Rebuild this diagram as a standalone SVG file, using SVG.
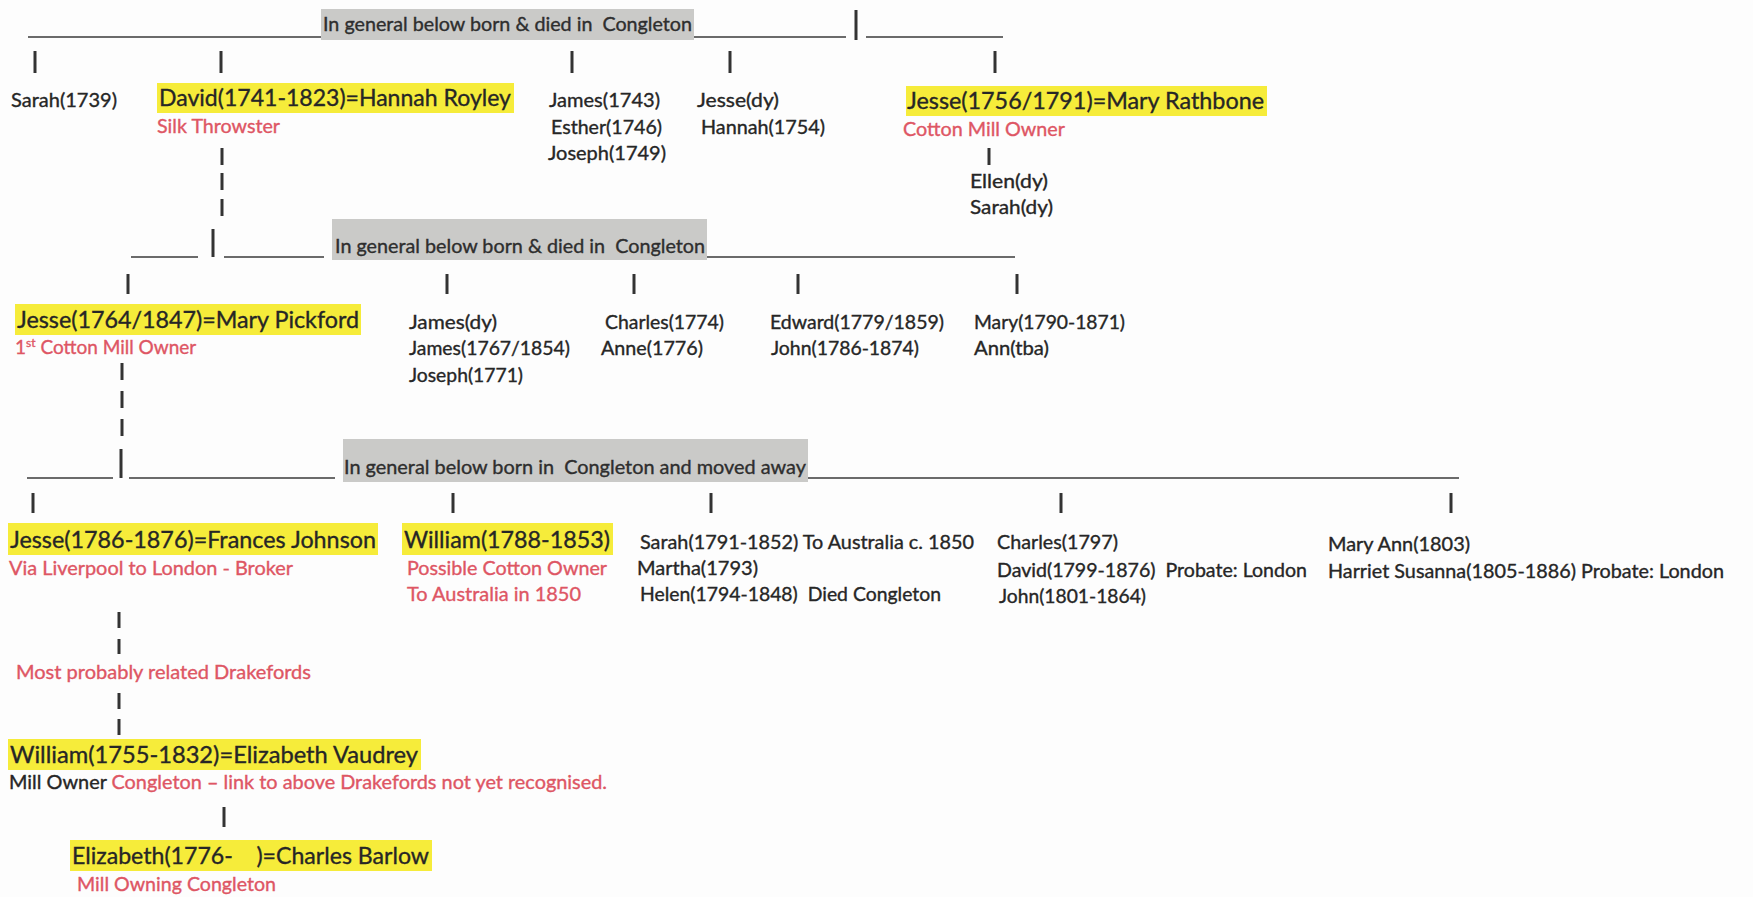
<svg xmlns="http://www.w3.org/2000/svg" width="1753" height="897" viewBox="0 0 1753 897">
<style>
text{font-family:Lato,"Open Sans","Liberation Sans",sans-serif;white-space:pre;stroke-width:0.35px}
.t{font-size:19px;fill:#262626;stroke:#262626}
.r{font-size:19px;fill:#de5664;stroke:#de5664}
.h{font-size:24px;fill:#262626;stroke:#262626}
.g{font-size:19px;fill:#2e2e2e;stroke:#2e2e2e}
.hl{fill:#f6ec3a}
.gb{fill:#cacac8}
.ln{stroke:#3a3a3a;stroke-width:1.6;fill:none}
.tk{stroke:#333;stroke-width:3;fill:none}
</style>
<rect width="1753" height="897" fill="#fdfdfd"/>

<g id="connectors">
  <!-- row 1 -->
  <line class="ln" x1="28" y1="37" x2="846" y2="37"/>
  <line class="tk" x1="856" y1="10" x2="856" y2="40"/>
  <line class="ln" x1="866" y1="37" x2="1003" y2="37"/>
  <line class="tk" x1="35" y1="51" x2="35" y2="73"/>
  <line class="tk" x1="221" y1="51" x2="221" y2="73"/>
  <line class="tk" x1="572" y1="51" x2="572" y2="73"/>
  <line class="tk" x1="730" y1="51" x2="730" y2="73"/>
  <line class="tk" x1="995" y1="51" x2="995" y2="73"/>
  <line class="tk" x1="222" y1="148" x2="222" y2="165"/>
  <line class="tk" x1="222" y1="173" x2="222" y2="190"/>
  <line class="tk" x1="222" y1="199" x2="222" y2="216"/>
  <line class="tk" x1="989" y1="148" x2="989" y2="165"/>
  <!-- row 2 -->
  <line class="ln" x1="131" y1="257" x2="198" y2="257"/>
  <line class="tk" x1="213" y1="229" x2="213" y2="257"/>
  <line class="ln" x1="224" y1="257" x2="324" y2="257"/>
  <line class="ln" x1="334" y1="257" x2="1015" y2="257"/>
  <line class="tk" x1="128" y1="274" x2="128" y2="294"/>
  <line class="tk" x1="447" y1="274" x2="447" y2="294"/>
  <line class="tk" x1="634" y1="274" x2="634" y2="294"/>
  <line class="tk" x1="798" y1="274" x2="798" y2="294"/>
  <line class="tk" x1="1017" y1="274" x2="1017" y2="294"/>
  <line class="tk" x1="122" y1="363" x2="122" y2="380"/>
  <line class="tk" x1="122" y1="391" x2="122" y2="408"/>
  <line class="tk" x1="122" y1="419" x2="122" y2="436"/>
  <!-- row 3 -->
  <line class="ln" x1="27" y1="478" x2="113" y2="478"/>
  <line class="tk" x1="121" y1="449" x2="121" y2="478"/>
  <line class="ln" x1="129" y1="478" x2="335" y2="478"/>
  <line class="ln" x1="343" y1="478" x2="1459" y2="478"/>
  <line class="tk" x1="33" y1="493" x2="33" y2="513"/>
  <line class="tk" x1="453" y1="493" x2="453" y2="513"/>
  <line class="tk" x1="711" y1="493" x2="711" y2="513"/>
  <line class="tk" x1="1061" y1="493" x2="1061" y2="513"/>
  <line class="tk" x1="1451" y1="493" x2="1451" y2="513"/>
  <line class="tk" x1="119" y1="612" x2="119" y2="628"/>
  <line class="tk" x1="119" y1="639" x2="119" y2="654"/>
  <line class="tk" x1="119" y1="693" x2="119" y2="709"/>
  <line class="tk" x1="119" y1="719" x2="119" y2="735"/>
  <line class="tk" x1="224" y1="807" x2="224" y2="827"/>
</g>

<g id="header1">
  <rect class="gb" x="321" y="9" width="373" height="31"/>
  <text class="g" x="323" y="31" textLength="369" lengthAdjust="spacingAndGlyphs">In general below born &amp; died in  Congleton</text>
</g>
<g id="header2">
  <rect class="gb" x="332" y="219" width="375" height="41"/>
  <text class="g" x="335" y="253" textLength="370" lengthAdjust="spacingAndGlyphs">In general below born &amp; died in  Congleton</text>
</g>
<g id="header3">
  <rect class="gb" x="343" y="439" width="465" height="43"/>
  <text class="g" x="344" y="474" textLength="462" lengthAdjust="spacingAndGlyphs">In general below born in  Congleton and moved away</text>
</g>

<!-- generation 1 -->
<g id="sarah1739"><text class="t" x="11" y="107" textLength="106" lengthAdjust="spacingAndGlyphs">Sarah(1739)</text></g>
<g id="david">
  <rect class="hl" x="157" y="83" width="357" height="30"/>
  <text class="h" x="159" y="106" textLength="352" lengthAdjust="spacingAndGlyphs">David(1741-1823)=Hannah Royley</text>
  <text class="r" x="157" y="133" textLength="123" lengthAdjust="spacingAndGlyphs">Silk Throwster</text>
</g>
<g id="james1743">
  <text class="t" x="549" y="107" textLength="111" lengthAdjust="spacingAndGlyphs">James(1743)</text>
  <text class="t" x="551" y="134" textLength="111" lengthAdjust="spacingAndGlyphs">Esther(1746)</text>
  <text class="t" x="548" y="160" textLength="118" lengthAdjust="spacingAndGlyphs">Joseph(1749)</text>
</g>
<g id="jessedy">
  <text class="t" x="697" y="107" textLength="82" lengthAdjust="spacingAndGlyphs">Jesse(dy)</text>
  <text class="t" x="701" y="134" textLength="124" lengthAdjust="spacingAndGlyphs">Hannah(1754)</text>
</g>
<g id="jesse1756">
  <rect class="hl" x="906" y="86" width="361" height="30"/>
  <text class="h" x="907" y="109" textLength="357" lengthAdjust="spacingAndGlyphs">Jesse(1756/1791)=Mary Rathbone</text>
  <text class="r" x="903" y="136" textLength="162" lengthAdjust="spacingAndGlyphs">Cotton Mill Owner</text>
</g>
<g id="ellen">
  <text class="t" x="970" y="188" textLength="78" lengthAdjust="spacingAndGlyphs">Ellen(dy)</text>
  <text class="t" x="970" y="214" textLength="83" lengthAdjust="spacingAndGlyphs">Sarah(dy)</text>
</g>

<!-- generation 2 -->
<g id="jesse1764">
  <rect class="hl" x="15" y="304" width="346" height="31"/>
  <text class="h" x="17" y="328" textLength="342" lengthAdjust="spacingAndGlyphs">Jesse(1764/1847)=Mary Pickford</text>
  <text class="r" x="15" y="354">1<tspan font-size="12" dy="-7">st</tspan><tspan dy="7"> Cotton Mill Owner</tspan></text>
</g>
<g id="jamesdy">
  <text class="t" x="409" y="329" textLength="88" lengthAdjust="spacingAndGlyphs">James(dy)</text>
  <text class="t" x="409" y="355" textLength="161" lengthAdjust="spacingAndGlyphs">James(1767/1854)</text>
  <text class="t" x="409" y="382" textLength="114" lengthAdjust="spacingAndGlyphs">Joseph(1771)</text>
</g>
<g id="charles1774">
  <text class="t" x="605" y="329" textLength="119" lengthAdjust="spacingAndGlyphs">Charles(1774)</text>
  <text class="t" x="601" y="355" textLength="102" lengthAdjust="spacingAndGlyphs">Anne(1776)</text>
</g>
<g id="edward">
  <text class="t" x="770" y="329" textLength="174" lengthAdjust="spacingAndGlyphs">Edward(1779/1859)</text>
  <text class="t" x="771" y="355" textLength="148" lengthAdjust="spacingAndGlyphs">John(1786-1874)</text>
</g>
<g id="mary1790">
  <text class="t" x="974" y="329" textLength="151" lengthAdjust="spacingAndGlyphs">Mary(1790-1871)</text>
  <text class="t" x="974" y="355" textLength="75" lengthAdjust="spacingAndGlyphs">Ann(tba)</text>
</g>

<!-- generation 3 -->
<g id="jesse1786">
  <rect class="hl" x="8" y="523" width="370" height="32"/>
  <text class="h" x="10" y="548" textLength="366" lengthAdjust="spacingAndGlyphs">Jesse(1786-1876)=Frances Johnson</text>
  <text class="r" x="9" y="575" textLength="284" lengthAdjust="spacingAndGlyphs">Via Liverpool to London - Broker</text>
</g>
<g id="william1788">
  <rect class="hl" x="402" y="523" width="211" height="32"/>
  <text class="h" x="404" y="548" textLength="206" lengthAdjust="spacingAndGlyphs">William(1788-1853)</text>
  <text class="r" x="407" y="575" textLength="200" lengthAdjust="spacingAndGlyphs">Possible Cotton Owner</text>
  <text class="r" x="407" y="601" textLength="174" lengthAdjust="spacingAndGlyphs">To Australia in 1850</text>
</g>
<g id="sarah1791">
  <text class="t" x="640" y="549" textLength="334" lengthAdjust="spacingAndGlyphs">Sarah(1791-1852) To Australia c. 1850</text>
  <text class="t" x="637" y="575" textLength="121" lengthAdjust="spacingAndGlyphs">Martha(1793)</text>
  <text class="t" x="640" y="601" textLength="301" lengthAdjust="spacingAndGlyphs">Helen(1794-1848)  Died Congleton</text>
</g>
<g id="charles1797">
  <text class="t" x="997" y="549" textLength="121" lengthAdjust="spacingAndGlyphs">Charles(1797)</text>
  <text class="t" x="997" y="577" textLength="310" lengthAdjust="spacingAndGlyphs">David(1799-1876)  Probate: London</text>
  <text class="t" x="999" y="603" textLength="147" lengthAdjust="spacingAndGlyphs">John(1801-1864)</text>
</g>
<g id="maryann">
  <text class="t" x="1328" y="551" textLength="142" lengthAdjust="spacingAndGlyphs">Mary Ann(1803)</text>
  <text class="t" x="1328" y="578" textLength="396" lengthAdjust="spacingAndGlyphs">Harriet Susanna(1805-1886) Probate: London</text>
</g>

<!-- related Drakefords -->
<g id="drakefords"><text class="r" x="16" y="679" textLength="295" lengthAdjust="spacingAndGlyphs">Most probably related Drakefords</text></g>
<g id="william1755">
  <rect class="hl" x="8" y="739" width="413" height="31"/>
  <text class="h" x="10" y="763" textLength="408" lengthAdjust="spacingAndGlyphs">William(1755-1832)=Elizabeth Vaudrey</text>
  <text class="t" x="9" y="789" textLength="598" lengthAdjust="spacingAndGlyphs">Mill Owner <tspan fill="#de5664" stroke="#de5664">Congleton – link to above Drakefords not yet recognised.</tspan></text>
</g>
<g id="elizabeth1776">
  <rect class="hl" x="70" y="840" width="362" height="31"/>
  <text class="h" x="72" y="864" textLength="357" lengthAdjust="spacingAndGlyphs">Elizabeth(1776-    )=Charles Barlow</text>
  <text class="r" x="77" y="891" textLength="199" lengthAdjust="spacingAndGlyphs">Mill Owning Congleton</text>
</g>
</svg>
